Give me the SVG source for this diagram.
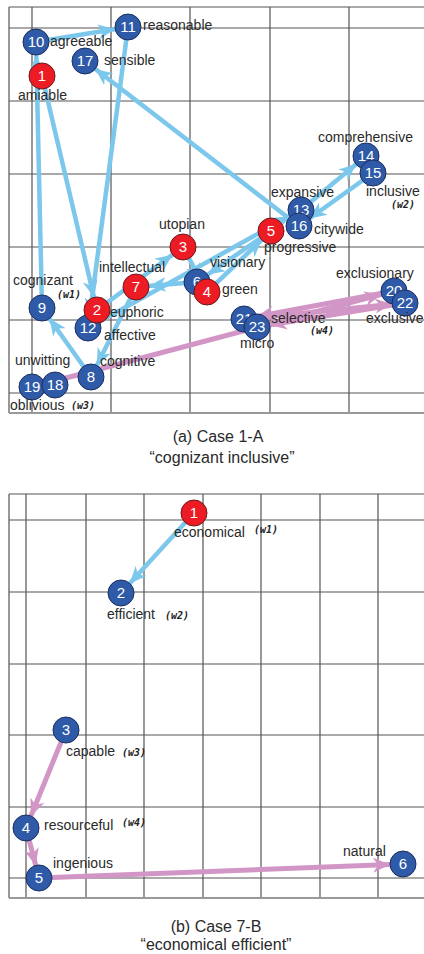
<svg xmlns="http://www.w3.org/2000/svg" width="424" height="954" viewBox="0 0 424 954">
<style>
.grid{stroke:#555;stroke-width:1.2;fill:none}
.frame{stroke:#999;stroke-width:2;fill:none}
.lbl{font-family:"Liberation Sans",Arial,sans-serif;font-size:14px;fill:#2a2a2a}
.w{font-family:"DejaVu Sans Mono",monospace;font-weight:bold;font-style:italic;font-size:10px;fill:#222}
.num{font-family:"Liberation Sans",Arial,sans-serif;font-size:15px;fill:#fff;text-anchor:middle}
.cap{font-family:"Liberation Sans",Arial,sans-serif;font-size:16px;fill:#2a2a2a;text-anchor:middle}
.b{fill:#2e5aa7;stroke:#1c2f60;stroke-width:1}
.r{fill:#ed1c24;stroke:#6a1a1a;stroke-width:1}
.eb{stroke:#7cc7ec;stroke-width:4.5;fill:none;marker-end:url(#ab)}
.ep{stroke:#d296c6;stroke-width:5;fill:none;marker-end:url(#ap)}
</style>
<defs>
<marker id="ab" markerUnits="userSpaceOnUse" markerWidth="17" markerHeight="15" refX="30" refY="7.5" orient="auto"><path d="M0,0 L17,7.5 L0,15 L5,7.5 Z" fill="#7cc7ec"/></marker>
<marker id="ap" markerUnits="userSpaceOnUse" markerWidth="17" markerHeight="15" refX="30" refY="7.5" orient="auto"><path d="M0,0 L17,7.5 L0,15 L5,7.5 Z" fill="#d296c6"/></marker>
</defs>
<rect width="424" height="954" fill="#fff"/>
<g id="grid-a">
<path class="grid" d="M9,7 H424 M9,28 H424 M9,101 H424 M9,174 H424 M9,247 H424 M9,320 H424 M9,393 H424 M9,7 V413 M32,7 V413 M111,7 V413 M190,7 V413 M270,7 V413 M349,7 V413"/>
<path class="frame" d="M9,413 H424"/>
</g>
<g id="grid-b">
<path class="grid" d="M9,494 H424 M9,520 H424 M9,592 H424 M9,664 H424 M9,735 H424 M9,807 H424 M9,878 H424 M9,494 V898 M26,494 V898 M86,494 V898 M144,494 V898 M203,494 V898 M261,494 V898 M320,494 V898 M378,494 V898"/>
<path class="frame" d="M9,898 H424"/>
</g>
<g id="connectors">
<line class="eb" x1="42" y1="76" x2="97" y2="310"/>
<line class="eb" x1="97" y1="310" x2="183" y2="247"/>
<line class="eb" x1="183" y1="247" x2="207" y2="292"/>
<line class="eb" x1="207" y1="292" x2="271" y2="231"/>
<line class="eb" x1="271" y1="231" x2="197" y2="282"/>
<line class="eb" x1="197" y1="282" x2="136" y2="287"/>
<line class="eb" x1="136" y1="287" x2="91" y2="377"/>
<line class="eb" x1="91" y1="377" x2="42" y2="308"/>
<line class="eb" x1="42" y1="308" x2="36" y2="42"/>
<line class="eb" x1="36" y1="42" x2="128" y2="27"/>
<line class="eb" x1="128" y1="27" x2="88" y2="328"/>
<line class="eb" x1="88" y1="328" x2="301" y2="210"/>
<line class="eb" x1="301" y1="210" x2="366" y2="156"/>
<line class="eb" x1="373" y1="173" x2="299" y2="226"/>
<line class="eb" x1="299" y1="226" x2="85" y2="61"/>
<line class="ep" x1="32" y1="387" x2="394" y2="291"/>
<line class="ep" x1="394" y1="291" x2="244" y2="319"/>
<line class="ep" x1="244" y1="319" x2="405" y2="303"/>
<line class="ep" x1="405" y1="303" x2="257" y2="327"/>
<line class="eb" x1="194" y1="513" x2="121" y2="593"/>
<line class="ep" x1="66" y1="730" x2="26" y2="828"/>
<line class="ep" x1="26" y1="828" x2="39" y2="878"/>
<line class="ep" x1="39" y1="878" x2="403" y2="864"/>
</g>
<g id="a10"><circle class="b" cx="36" cy="42" r="13"/><text class="num" x="36" y="47">10</text><text class="lbl" x="50" y="46">agreeable</text></g>
<g id="a11"><circle class="b" cx="128" cy="27" r="13"/><text class="num" x="128" y="32">11</text><text class="lbl" x="143" y="30">reasonable</text></g>
<g id="a17"><circle class="b" cx="85" cy="61" r="13"/><text class="num" x="85" y="66">17</text><text class="lbl" x="104" y="65">sensible</text></g>
<g id="a1"><circle class="r" cx="42" cy="76" r="13"/><text class="num" x="42" y="81">1</text><text class="lbl" x="18" y="100">amiable</text></g>
<g id="a14"><circle class="b" cx="366" cy="156" r="13"/><text class="num" x="366" y="161">14</text><text class="lbl" x="318" y="142">comprehensive</text></g>
<g id="a15"><circle class="b" cx="373" cy="173" r="13"/><text class="num" x="373" y="178">15</text><text class="lbl" x="366" y="196">inclusive</text><text class="w" x="391" y="208">(w2)</text></g>
<g id="a13"><circle class="b" cx="301" cy="210" r="13"/><text class="num" x="301" y="215">13</text><text class="lbl" x="271" y="197">expansive</text></g>
<g id="a16"><circle class="b" cx="299" cy="226" r="13"/><text class="num" x="299" y="231">16</text><text class="lbl" x="314" y="234">citywide</text></g>
<g id="a5"><circle class="r" cx="271" cy="231" r="13"/><text class="num" x="271" y="236">5</text><text class="lbl" x="264" y="252">progressive</text></g>
<g id="a3"><circle class="r" cx="183" cy="247" r="13"/><text class="num" x="183" y="252">3</text><text class="lbl" x="159" y="229">utopian</text></g>
<g id="a7"><circle class="r" cx="136" cy="287" r="13"/><text class="num" x="136" y="292">7</text><text class="lbl" x="99" y="272">intellectual</text></g>
<g id="a6"><circle class="b" cx="197" cy="282" r="13"/><text class="num" x="197" y="287">6</text><text class="lbl" x="210" y="267">visionary</text></g>
<g id="a4"><circle class="r" cx="207" cy="292" r="13"/><text class="num" x="207" y="297">4</text><text class="lbl" x="222" y="294">green</text></g>
<g id="a9"><circle class="b" cx="42" cy="308" r="13"/><text class="num" x="42" y="313">9</text><text class="lbl" x="13" y="285">cognizant</text><text class="w" x="57" y="298">(w1)</text></g>
<g id="a12"><circle class="b" cx="88" cy="328" r="13"/><text class="num" x="88" y="333">12</text><text class="lbl" x="104" y="340">affective</text></g>
<g id="a2"><circle class="r" cx="97" cy="310" r="13"/><text class="num" x="97" y="315">2</text><text class="lbl" x="110" y="317">euphoric</text></g>
<g id="a8"><circle class="b" cx="91" cy="377" r="13"/><text class="num" x="91" y="382">8</text><text class="lbl" x="100" y="366">cognitive</text></g>
<g id="a19"><circle class="b" cx="32" cy="387" r="13"/><text class="num" x="32" y="392">19</text><text class="lbl" x="10" y="410">oblivious</text><text class="w" x="71" y="409">(w3)</text></g>
<g id="a18"><circle class="b" cx="55" cy="385" r="13"/><text class="num" x="55" y="390">18</text><text class="lbl" x="15" y="365">unwitting</text></g>
<g id="a20"><circle class="b" cx="394" cy="291" r="13"/><text class="num" x="394" y="296">20</text><text class="lbl" x="336" y="278">exclusionary</text></g>
<g id="a22"><circle class="b" cx="405" cy="303" r="13"/><text class="num" x="405" y="308">22</text><text class="lbl" x="366" y="323">exclusive</text></g>
<g id="a21"><circle class="b" cx="244" cy="319" r="13"/><text class="num" x="244" y="324">21</text><text class="lbl" x="240" y="348">micro</text></g>
<g id="a23"><circle class="b" cx="257" cy="327" r="13"/><text class="num" x="257" y="332">23</text><text class="lbl" x="271" y="323">selective</text><text class="w" x="310" y="334">(w4)</text></g>
<g id="cap-a"><text class="cap" x="218" y="442">(a) Case 1-A</text><text class="cap" x="222" y="463">“cognizant inclusive”</text></g>
<g id="b1"><circle class="r" cx="194" cy="513" r="13"/><text class="num" x="194" y="518">1</text><text class="lbl" x="174" y="537">economical</text><text class="w" x="254" y="533">(w1)</text></g>
<g id="b2"><circle class="b" cx="121" cy="593" r="13"/><text class="num" x="121" y="598">2</text><text class="lbl" x="107" y="619">efficient</text><text class="w" x="165" y="619">(w2)</text></g>
<g id="b3"><circle class="b" cx="66" cy="730" r="13"/><text class="num" x="66" y="735">3</text><text class="lbl" x="66" y="756">capable</text><text class="w" x="122" y="756">(w3)</text></g>
<g id="b4"><circle class="b" cx="26" cy="828" r="13"/><text class="num" x="26" y="833">4</text><text class="lbl" x="44" y="830">resourceful</text><text class="w" x="122" y="826">(w4)</text></g>
<g id="b5"><circle class="b" cx="39" cy="878" r="13"/><text class="num" x="39" y="883">5</text><text class="lbl" x="53" y="868">ingenious</text></g>
<g id="b6"><circle class="b" cx="403" cy="864" r="13"/><text class="num" x="403" y="869">6</text><text class="lbl" x="343" y="856">natural</text></g>
<g id="cap-b"><text class="cap" x="216" y="932">(b) Case 7-B</text><text class="cap" x="216" y="950">“economical efficient”</text></g>
</svg>
